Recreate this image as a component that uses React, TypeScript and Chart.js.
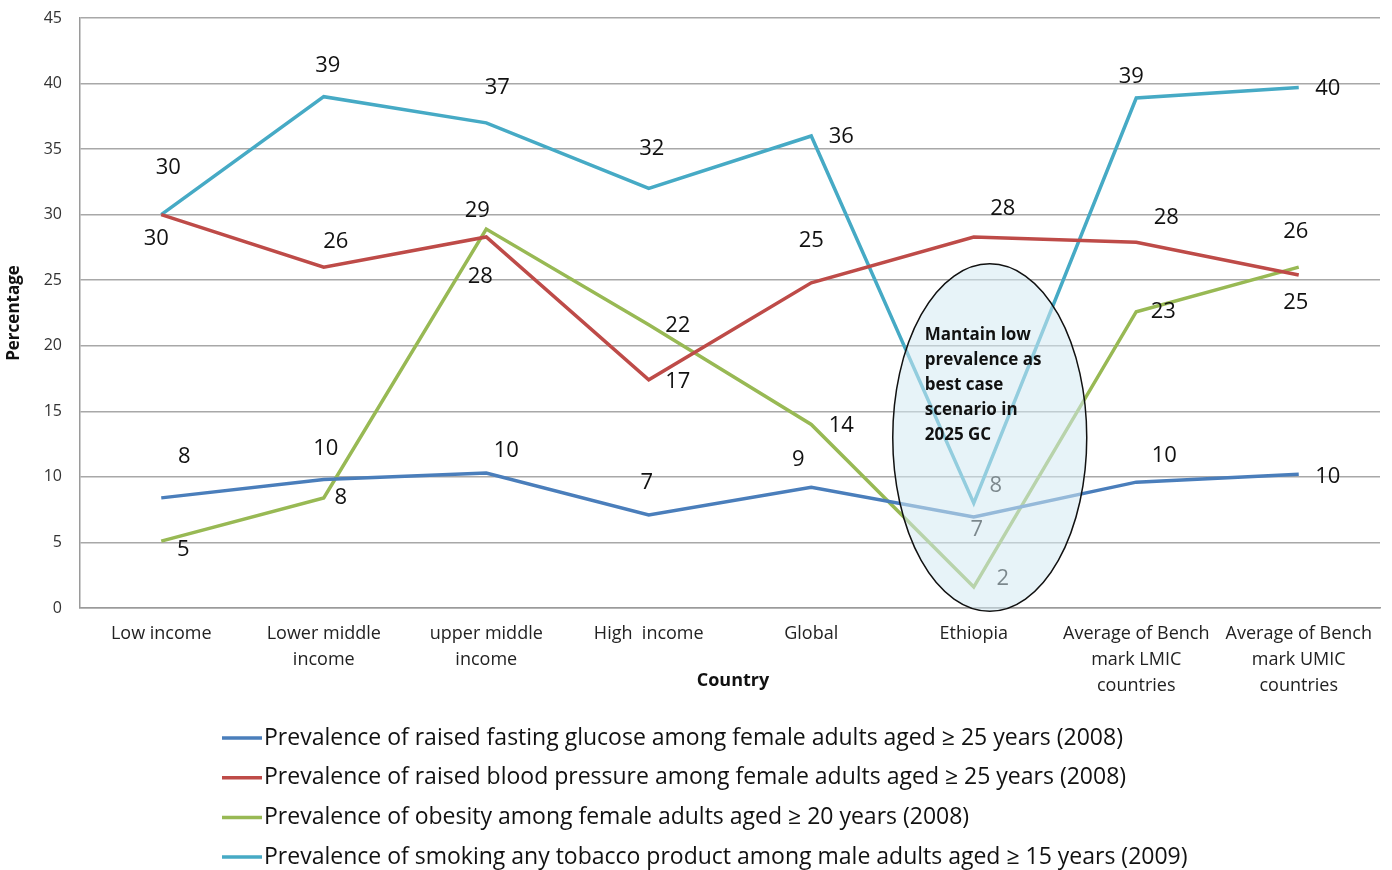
import React, { useEffect, useRef } from "react";
import { Chart, registerables } from "chart.js";

Chart.register(...registerables);

const categories: (string | string[])[] = [
  "Low income",
  ["Lower middle", "income"],
  ["upper middle", "income"],
  "High  income",
  "Global",
  "Ethiopia",
  ["Average of Bench", "mark LMIC", "countries"],
  ["Average of Bench", "mark UMIC", "countries"],
];

const glucose = [8.4, 9.8, 10.3, 7.1, 9.2, 6.95, 9.6, 10.2];
const bloodPressure = [30, 26, 28.3, 17.4, 24.8, 28.3, 27.9, 25.4];
const obesity = [5.1, 8.4, 28.9, 21.6, 14.0, 1.6, 22.6, 26.0];
const smoking = [30, 39, 37, 32, 36, 8.0, 38.9, 39.7];

const yTicks = [0, 5, 10, 15, 20, 25, 30, 35, 40, 45];

const seriesNames = [
  "Prevalence of raised fasting glucose among female adults aged \u2265 25 years (2008)",
  "Prevalence of raised blood pressure among female adults aged \u2265 25 years (2008)",
  "Prevalence of obesity among female adults aged \u2265 20 years (2008)",
  "Prevalence of smoking any tobacco product among male adults aged \u2265 15 years (2009)",
];

const noteLines = ["Mantain low", "prevalence as", "best case", "scenario in", "2025 GC"];

// label placement offsets (px) relative to each point, per series
const labelOffsets: [number, number][][] = [
  [[23, -41], [2, -31], [20, -22], [-2, -32], [-13, -28], [3, 13], [28, -26], [29, 2]],
  [[-5, 24], [12, -25], [-6, 40], [29, 2], [0, -42], [29, -28], [30, -24], [-3, 28]],
  [[22, 9], [17, 0], [-9, -18], [29, 1], [30, 1], [29, -8], [27, 0], [-3, -35]],
  [[7, -47], [4, -31], [11, -35], [3, -40], [30, 1], [22, -17], [-5, -21], [29, 1]],
];

const colors = ["#4A7EBB", "#BE4B48", "#98B954", "#46AAC5"];
const FONT = "'Open Sans', 'DejaVu Sans', sans-serif";

const overlayPlugin = {
  id: "overlay",
  afterDatasetsDraw(chart: any) {
    const ctx = chart.ctx;
    ctx.save();
    ctx.fillStyle = "#111";
    ctx.font = `22px ${FONT}`;
    ctx.textAlign = "center";
    ctx.textBaseline = "middle";
    chart.data.datasets.forEach((ds: any, di: number) => {
      const meta = chart.getDatasetMeta(di);
      meta.data.forEach((pt: any, i: number) => {
        const v = ds.data[i];
        const off = labelOffsets[di][i];
        ctx.fillText(String(Math.round(v)), pt.x + off[0], pt.y + off[1]);
      });
    });
    ctx.restore();
  },
  afterDraw(chart: any) {
    const ctx = chart.ctx;
    const xs = chart.scales.x;
    const ys = chart.scales.y;
    // ellipse annotation around Ethiopia
    const cx = xs.getPixelForValue(5) + 16;
    const cy = ys.getPixelForValue(13);
    const rx = 97;
    const ry = (ys.getPixelForValue(0) - ys.getPixelForValue(26.5)) / 2;
    ctx.save();
    ctx.beginPath();
    ctx.ellipse(cx, cy, rx, ry, 0, 0, Math.PI * 2);
    ctx.fillStyle = "rgba(212,233,242,0.55)";
    ctx.fill();
    ctx.lineWidth = 1.5;
    ctx.strokeStyle = "#111";
    ctx.stroke();
    ctx.fillStyle = "#111";
    ctx.font = `bold 17px ${FONT}`;
    ctx.textAlign = "left";
    ctx.textBaseline = "middle";
    noteLines.forEach((t, i) => {
      ctx.fillText(t, cx - 65, cy - 102 + i * 25);
    });

    // x axis title
    ctx.font = `bold 18px ${FONT}`;
    ctx.textAlign = "center";
    ctx.fillText("Country", (chart.chartArea.left + chart.chartArea.right) / 2 + 3, chart.chartArea.bottom + 73);

    // legend
    ctx.font = `23px ${FONT}`;
    ctx.textAlign = "left";
    chart.data.datasets.forEach((ds: any, di: number) => {
      const y = 738 + di * 39.7;
      ctx.beginPath();
      ctx.moveTo(222, y);
      ctx.lineTo(262, y);
      ctx.lineWidth = 3.5;
      ctx.strokeStyle = ds.borderColor;
      ctx.stroke();
      ctx.fillStyle = "#111";
      ctx.fillText(ds.label, 264, y);
    });
    ctx.restore();
  },
};

export default function App() {
  const ref = useRef<HTMLCanvasElement>(null);
  useEffect(() => {
    document.body.style.margin = "0";
    const seriesData = [glucose, bloodPressure, obesity, smoking];
    const chart = new Chart(ref.current!, {
      type: "line",
      data: {
        labels: categories,
        datasets: seriesData.map((d, i) => ({
          label: seriesNames[i],
          data: d,
          borderColor: colors[i],
          backgroundColor: colors[i],
          borderWidth: 3.5,
          pointRadius: 0,
          tension: 0,
        })),
      },
      options: {
        animation: false,
        responsive: false,
        maintainAspectRatio: false,
        layout: { padding: { left: 0, right: 12, top: 18, bottom: 172 } },
        plugins: {
          legend: { display: false },
          tooltip: { enabled: false },
        },
        scales: {
          x: {
            offset: true,
            grid: { display: false, drawTicks: false },
            border: { display: true, color: "#9A9A9A", width: 1.5 },
            ticks: {
              autoSkip: false,
              maxRotation: 0,
              minRotation: 0,
              padding: 13,
              color: "#222",
              font: { family: FONT, size: 18, lineHeight: 1.45 },
            },
            afterFit(scale: any) {
              scale.height = 90;
            },
          },
          y: {
            min: 0,
            max: 45,
            afterBuildTicks(scale: any) {
              scale.ticks = yTicks.map((v) => ({ value: v }));
            },
            grid: { color: "#A8A8A8", lineWidth: 1.5, drawTicks: false },
            border: { display: true, color: "#9A9A9A", width: 1.5 },
            ticks: {
              padding: 18,
              color: "#333",
              font: { family: FONT, size: 16 },
            },
            title: {
              display: true,
              text: "Percentage",
              color: "#111",
              font: { family: FONT, size: 17, weight: "bold" },
            },
            afterFit(scale: any) {
              scale.width = 80;
              scale.paddingTop = 0;
              scale.paddingBottom = 0;
            },
          },
        },
      },
      plugins: [overlayPlugin],
    });
    return () => chart.destroy();
  }, []);
  return <canvas ref={ref} width={1392} height={870} style={{ display: "block" }} />;
}
